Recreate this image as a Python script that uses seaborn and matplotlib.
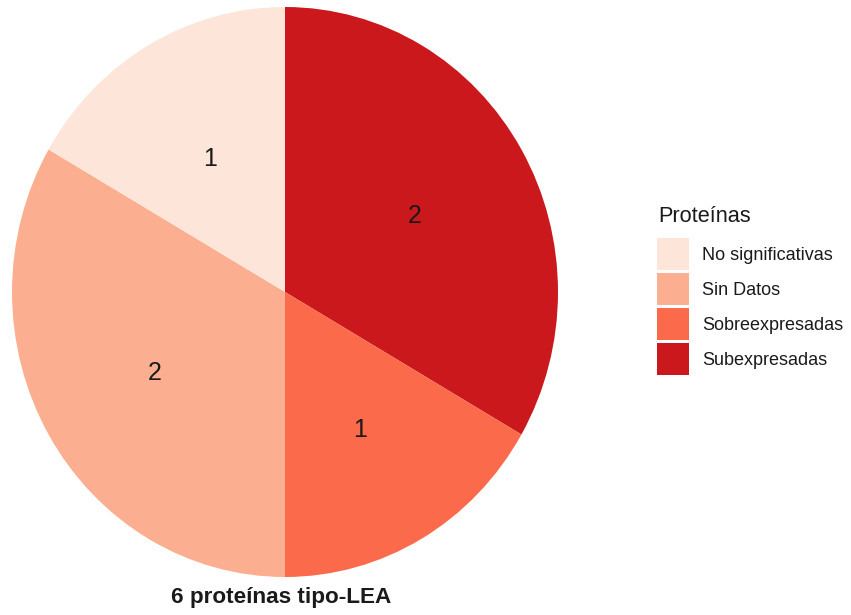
import numpy as np
import matplotlib
matplotlib.use("Agg")
import matplotlib.pyplot as plt
import seaborn as sns

# Protein categories (legend order) and their counts
categories = ["No significativas", "Sin Datos", "Sobreexpresadas", "Subexpresadas"]
counts = [1, 2, 1, 2]
colors = ["#FEE5D9", "#FCAE91", "#FB6A4A", "#CB181D"]
legend_title = "Proteínas"
caption = "6 proteínas tipo-LEA"

sns.set_theme(style="white")
plt.rcParams["font.family"] = ["Liberation Sans", "DejaVu Sans"]
palette = sns.color_palette(colors)

fig = plt.figure(figsize=(8.51, 6.15), dpi=100)
W, H = 851, 615
ax = fig.add_axes([12 / W, (H - 577) / H, 546 / W, 570 / H])

# Slices are drawn clockwise from 12 o'clock, last category first
order = list(range(len(categories)))[::-1]
vals = [counts[i] for i in order]
cols = [palette[i] for i in order]
wedges, _ = ax.pie(vals, colors=cols, startangle=90, counterclock=False,
                   wedgeprops=dict(linewidth=0), radius=1.0)
ax.set_aspect("auto")
ax.set_xlim(-1, 1)
ax.set_ylim(-1, 1)
ax.axis("off")

# Count labels at the middle of each slice
total = sum(vals)
cum = 0
for v in vals:
    mid = (cum + v / 2) / total * 2 * np.pi
    r = 0.55
    ax.text(r * np.sin(mid), r * np.cos(mid), str(v), ha="center",
            va="center_baseline", fontsize=18, color="#1a1a1a")
    cum += v

fig.text(281 / W, 1 - 598 / H, caption, ha="center", va="center",
         fontsize=16.2, fontweight="bold", color="#1a1a1a")

# Legend: title as its own text, swatches below it
fig.text(658 / W, 1 - 217 / H, legend_title, ha="left", va="center",
         fontsize=15.7, color="#1a1a1a")
handles = [wedges[order.index(i)] for i in range(len(categories))]
fs = 13
px = fs * 100 / 72
# patch height in a legend row is fontsize * (0.65 * handleheight + 0.245)
hh = (32 / px - 0.245) / 0.65
leg = fig.legend(handles, categories, loc="upper left",
                 bbox_to_anchor=(657 / W, 1 - 238 / H), frameon=False,
                 fontsize=fs, handlelength=32 / px, handleheight=hh,
                 labelspacing=3 / px, handletextpad=13 / px, borderpad=0,
                 borderaxespad=0)
for t in leg.get_texts():
    t.set_color("#1a1a1a")

fig.savefig("out.png", dpi=100, facecolor="white")
